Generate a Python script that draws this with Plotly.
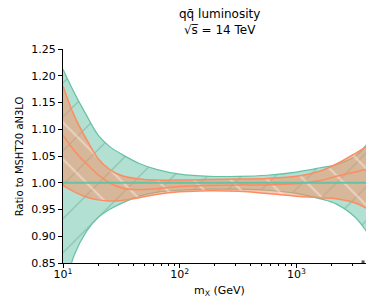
import plotly.graph_objects as go

# m_X grid (GeV)
mass = [10, 12.5, 16, 20, 25, 32, 45, 63, 100, 180, 320, 560, 1000, 1600, 2200, 3200, 4000, 4800]

# MSHT20 aN3LO (reference) band
ref_central = [1.0] * len(mass)
ref_upper = [1.212, 1.168, 1.125, 1.089, 1.068, 1.053, 1.036, 1.025, 1.016, 1.012, 1.012, 1.014, 1.020, 1.028, 1.034, 1.050, 1.072, 1.118]
ref_lower = [0.790, 0.865, 0.910, 0.935, 0.950, 0.962, 0.975, 0.982, 0.986, 0.988, 0.988, 0.986, 0.980, 0.970, 0.960, 0.935, 0.908, 0.882]

# comparison set band
cmp_upper = [1.181, 1.125, 1.080, 1.045, 1.025, 1.013, 1.007, 1.005, 1.005, 1.006, 1.007, 1.008, 1.012, 1.022, 1.035, 1.055, 1.068, 1.077]
cmp_central = [1.089, 1.060, 1.035, 1.015, 1.000, 0.990, 0.987, 0.989, 0.993, 0.995, 0.996, 0.996, 0.998, 1.004, 1.012, 1.020, 1.024, 1.012]
cmp_lower = [0.995, 0.983, 0.973, 0.968, 0.966, 0.967, 0.972, 0.978, 0.983, 0.985, 0.984, 0.980, 0.975, 0.972, 0.970, 0.962, 0.952, 0.945]

# stray marker
marker_x = [3720]
marker_y = [0.852]

x_tickvals = [10, 100, 1000]
x_ticktext = ["10<sup>1</sup>", "10<sup>2</sup>", "10<sup>3</sup>"]
y_tickvals = [0.85, 0.90, 0.95, 1.00, 1.05, 1.10, 1.15, 1.20, 1.25]

GREEN = "#66c2a5"
ORANGE = "#fc8d62"
FONT = "DejaVu Sans"

fig = go.Figure()

# green band
fig.add_trace(go.Scatter(x=mass, y=ref_lower, mode="lines", line=dict(color=GREEN, width=1.2, shape="spline"),
                         showlegend=False, hoverinfo="skip"))
fig.add_trace(go.Scatter(x=mass, y=ref_upper, mode="lines", line=dict(color=GREEN, width=1.2, shape="spline"),
                         fill="tonexty", fillcolor="rgba(102,194,165,0.5)",
                         fillpattern=dict(shape="/", size=24, solidity=0.05, fgcolor="rgba(70,140,110,0.8)",
                                          bgcolor="rgba(102,194,165,0.5)"),
                         showlegend=False, hoverinfo="skip"))

# orange band
fig.add_trace(go.Scatter(x=mass, y=cmp_lower, mode="lines", line=dict(color=ORANGE, width=1.5, shape="spline"),
                         showlegend=False, hoverinfo="skip"))
fig.add_trace(go.Scatter(x=mass, y=cmp_upper, mode="lines", line=dict(color=ORANGE, width=1.5, shape="spline"),
                         fill="tonexty", fillcolor="rgba(252,141,98,0.5)",
                         fillpattern=dict(shape="\\", size=26, solidity=0.08, fgcolor="rgba(255,240,235,0.95)",
                                          bgcolor="rgba(252,141,98,0.5)"),
                         showlegend=False, hoverinfo="skip"))
fig.add_trace(go.Scatter(x=mass, y=cmp_central, mode="lines", line=dict(color=ORANGE, width=1.5, shape="spline"),
                         showlegend=False, hoverinfo="skip"))

# reference central line
fig.add_trace(go.Scatter(x=mass, y=ref_central, mode="lines", line=dict(color=GREEN, width=2.2),
                         showlegend=False, hoverinfo="skip"))

fig.add_trace(go.Scatter(x=marker_x, y=marker_y, mode="markers",
                         marker=dict(symbol="square", size=3, color="#555555"),
                         showlegend=False, hoverinfo="skip", cliponaxis=False))

fig.update_layout(
    width=374, height=297,
    margin=dict(l=55, r=6, t=41, b=42),
    paper_bgcolor="white", plot_bgcolor="white",
    font=dict(family=FONT, size=11, color="black"),
    annotations=[
        dict(text="qq\u0304 luminosity<br>\u221as\u0305 = 14 TeV", x=0.5, y=1.045, xref="paper", yref="paper",
             xanchor="center", yanchor="bottom", showarrow=False, font=dict(size=12, family=FONT)),
        dict(text="m<sub>X</sub> (GeV)", x=0.5, y=-0.13, xref="paper", yref="paper",
             xanchor="center", yanchor="middle", showarrow=False, font=dict(size=11, family=FONT)),
        dict(text="Ratio to MSHT20 aN3LO", x=-0.14, y=0.5, xref="paper", yref="paper", textangle=-90,
             xanchor="center", yanchor="middle", showarrow=False, font=dict(size=10, family=FONT)),
    ],
)

fig.update_xaxes(
    type="log", range=[1, 3.6812],
    tickvals=x_tickvals, ticktext=x_ticktext,
    ticks="outside", ticklen=4, tickwidth=1, tickcolor="black",
    showline=True, linecolor="black", linewidth=1, mirror=False,
    showgrid=False, zeroline=False,
    minor=dict(ticks="outside", ticklen=2, tickwidth=0.8, tickcolor="black",
               tickvals=[20, 30, 40, 50, 60, 70, 80, 90, 200, 300, 400, 500, 600, 700, 800, 900, 2000, 3000, 4000],
               showgrid=False),
    tickfont=dict(size=11),
    ticklabelstandoff=-3,
)
fig.update_yaxes(
    range=[0.85, 1.25],
    tickvals=y_tickvals, tickformat=".2f",
    ticks="outside", ticklen=4, tickwidth=1, tickcolor="black",
    showline=True, linecolor="black", linewidth=1, mirror=False,
    showgrid=False, zeroline=False,
    tickfont=dict(size=11),
)

fig.write_html("out.html")
